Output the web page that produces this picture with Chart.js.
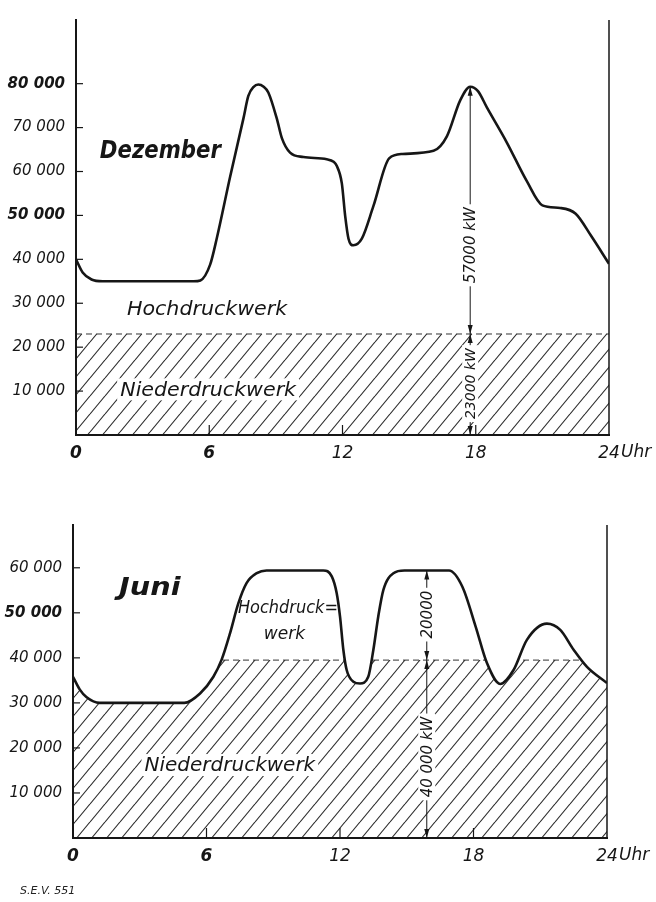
<!DOCTYPE html>
<html lang="de">
<head>
<meta charset="UTF-8">
<title>Belastungsdiagramm Dezember / Juni</title>
<script src="https://cdn.jsdelivr.net/npm/chart.js"></script>
<style>
  body { margin: 0; background: #fff; }
  #wrap { position: relative; width: 656px; height: 902px; }
  #decChart { position: absolute; left: 0; top: 0; }
  #junChart { position: absolute; left: 0; top: 480px; }
  .sev { position: absolute; left: 20px; top: 884px; font: italic 11px "DejaVu Sans", sans-serif; color: #222; }
</style>
</head>
<body>
<div id="wrap">
  <canvas id="decChart" width="656" height="470"></canvas>
  <canvas id="junChart" width="656" height="420"></canvas>
  <div class="sev">S.E.V. 551</div>
</div>

<script>
  // Tagesbelastung, Stunde -> kW
  const decHours = [0, 0.3, 0.7, 1.2, 5.3, 5.6, 6.04, 6.34, 6.94, 7.54, 7.76, 8.0, 8.21, 8.45, 8.66, 9.04, 9.27, 9.64, 10.24, 11.29, 11.6, 11.74, 11.97, 12.12, 12.27, 12.49, 12.87, 13.39, 14.1, 14.7, 16.1, 16.7, 17.3, 17.75, 18.1, 18.5, 19.4, 20.3, 21.0, 21.8, 22.5, 23.2, 24];
  const decKW = [40000, 37000, 35400, 35000, 35000, 35200, 38800, 44800, 58800, 72100, 77200, 79300, 79800, 79300, 78000, 72100, 67600, 64300, 63300, 62800, 62200, 61300, 57300, 49900, 44700, 43200, 44700, 52100, 63000, 64000, 64700, 68000, 76200, 79300, 78300, 74600, 66600, 57800, 52300, 51700, 50400, 45300, 39000];
  const decNieder = 23000;
  const decArrowHour = 17.75;
  const decYTicks = [10000, 20000, 30000, 40000, 50000, 60000, 70000, 80000];

  const junHours = [0, 0.3, 0.6, 1.2, 5.0, 5.71, 6.31, 6.68, 7.06, 7.43, 7.8, 8.26, 8.7, 11.25, 11.63, 11.85, 12.0, 12.15, 12.3, 12.6, 12.9, 13.27, 13.5, 13.72, 13.95, 14.4, 14.9, 16.9, 17.5, 18.1, 18.6, 19.2, 19.8, 20.4, 21.3, 21.9, 22.5, 23.1, 24];
  const junKW = [35800, 33000, 31300, 30000, 30000, 32100, 35800, 39600, 45500, 52100, 56600, 58800, 59400, 59400, 58100, 54400, 49200, 41800, 37300, 34700, 34300, 35800, 41800, 49200, 55100, 58800, 59400, 59400, 55800, 46900, 38900, 34200, 37300, 44000, 47600, 46200, 41800, 38000, 34400];
  const junNieder = 39500;
  const junArrowHour = 15.9;
  const junYTicks = [10000, 20000, 30000, 40000, 50000, 60000];

  const hourTicks = [0, 6, 12, 18, 24];

  const INK = '#161616';
  const FONT = '"DejaVu Sans", sans-serif';

  function hatch() {
    const w = 15, h = 18;
    const c = document.createElement('canvas');
    c.width = w; c.height = h;
    const g = c.getContext('2d');
    g.strokeStyle = '#2a2a2a';
    g.lineWidth = 1.1;
    [-w, 0, w].forEach(o => {
      g.beginPath(); g.moveTo(o, h); g.lineTo(o + w, 0); g.stroke();
    });
    return c.getContext('2d').createPattern(c, 'repeat');
  }

  const fmt = v => String(v).replace(/(\d+)(\d{3})$/, '$1 $2');

  function arrowHead(ctx, x, y, dir) {
    ctx.beginPath();
    ctx.moveTo(x, y);
    ctx.lineTo(x - 2.5, y - dir * 9);
    ctx.lineTo(x + 2.5, y - dir * 9);
    ctx.closePath();
    ctx.fill();
  }

  // Pfeile, Teilstriche und Beschriftungen
  function beschriftung(cfg) {
    return {
      id: 'beschriftung',
      afterDraw(chart) {
        const { ctx, chartArea: a } = chart;
        const x = chart.scales.x, y = chart.scales.y;
        ctx.save();
        ctx.strokeStyle = INK;
        ctx.fillStyle = INK;

        // rechte Begrenzung
        const xr = x.getPixelForValue(24);
        ctx.lineWidth = 1.5;
        ctx.beginPath(); ctx.moveTo(xr, a.top); ctx.lineTo(xr, a.bottom); ctx.stroke();

        // Teilstriche nach innen
        ctx.lineWidth = 1.2;
        cfg.yTicks.forEach(v => {
          const py = y.getPixelForValue(v);
          ctx.beginPath(); ctx.moveTo(a.left, py); ctx.lineTo(a.left + 7, py); ctx.stroke();
        });
        hourTicks.slice(1, -1).forEach(h => {
          const px = x.getPixelForValue(h);
          ctx.beginPath(); ctx.moveTo(px, a.bottom); ctx.lineTo(px, a.bottom - 10); ctx.stroke();
        });

        // Masspfeile
        ctx.lineWidth = 1;
        const ax = x.getPixelForValue(cfg.arrowHour);
        cfg.arrows.forEach(([top, bottom]) => {
          const y1 = y.getPixelForValue(top), y2 = y.getPixelForValue(bottom);
          ctx.beginPath(); ctx.moveTo(ax, y1); ctx.lineTo(ax, y2); ctx.stroke();
          arrowHead(ctx, ax, y1, -1);
          arrowHead(ctx, ax, y2, 1);
        });

        // Texte
        ctx.textAlign = 'center';
        ctx.textBaseline = 'middle';
        cfg.texts.forEach(t => {
          const px = x.getPixelForValue(t.h), py = y.getPixelForValue(t.v);
          ctx.font = t.font;
          const tw = ctx.measureText(t.t).width;
          const th = parseInt(t.font.match(/(\d+)px/)[1], 10);
          ctx.save();
          ctx.translate(px, py);
          if (t.rot) ctx.rotate(-Math.PI / 2);
          if (t.sx) ctx.scale(t.sx, 1);
          if (t.bg) {
            ctx.fillStyle = '#fff';
            ctx.fillRect(-tw / 2 - 3, -th / 2 - 1, tw + 6, th + 2);
            ctx.fillStyle = INK;
          }
          ctx.fillText(t.t, 0, 1);
          ctx.restore();
        });

        // "Uhr" hinter der 24
        ctx.font = 'italic 17px ' + FONT;
        ctx.textAlign = 'left';
        ctx.fillText('Uhr', xr + 12, a.bottom + 18);
        ctx.restore();
      }
    };
  }

  function drawChart(id, cfg) {
    const canvas = document.getElementById(id);
    const curve = cfg.hours.map((h, i) => ({ x: h, y: cfg.kw[i] }));
    const nieder = [{ x: 0, y: cfg.nieder }, { x: 24, y: cfg.nieder }];

    new Chart(canvas, {
      type: 'line',
      data: {
        datasets: [
          {
            label: 'Gesamtbelastung',
            data: curve,
            borderColor: INK,
            borderWidth: 2.6,
            pointRadius: 0,
            cubicInterpolationMode: 'monotone',
            fill: 'end',
            backgroundColor: '#fff'
          },
          {
            label: 'Niederdruckwerk',
            data: nieder,
            borderColor: '#333',
            borderWidth: 1,
            borderDash: [6, 4],
            pointRadius: 0,
            fill: 'origin',
            backgroundColor: hatch()
          }
        ]
      },
      options: {
        responsive: false,
        animation: false,
        layout: { padding: { top: cfg.top, right: canvas.width - cfg.right, left: 0, bottom: 0 } },
        plugins: { legend: { display: false }, tooltip: { enabled: false } },
        scales: {
          x: {
            type: 'linear', min: 0, max: 24,
            border: { display: true, width: 2, color: INK, z: 1 },
            grid: { display: false, drawTicks: false },
            afterBuildTicks: s => { s.ticks = hourTicks.map(v => ({ value: v })); },
            afterFit: s => { s.height = canvas.height - cfg.bottom; },
            ticks: {
              padding: 8, maxRotation: 0, autoSkip: false, color: INK,
              font: c => ({ family: FONT, size: 17, style: 'italic', weight: c.tick && c.tick.value <= 6 ? 'bold' : 'normal' })
            }
          },
          y: {
            type: 'linear', min: 0, max: cfg.yMax,
            border: { display: true, width: 2, color: INK, z: 1 },
            grid: { display: false, drawTicks: false },
            afterBuildTicks: s => { s.ticks = cfg.yTicks.map(v => ({ value: v })); },
            afterFit: s => { s.width = cfg.left; },
            ticks: {
              padding: 11, color: INK,
              callback: v => fmt(v),
              font: c => ({ family: FONT, size: 15, style: 'italic', weight: c.tick && (c.tick.value === 50000 || c.tick.value === 80000) ? 'bold' : 'normal' })
            }
          }
        }
      },
      plugins: [beschriftung(cfg)]
    });
  }

  drawChart('decChart', {
    hours: decHours, kw: decKW, nieder: decNieder, yTicks: decYTicks, yMax: 94500,
    left: 76, right: 609, top: 8, bottom: 435,
    arrowHour: decArrowHour,
    arrows: [[79300, decNieder], [decNieder, 0]],
    texts: [
      { t: 'Dezember', h: 3.8, v: 64700, font: 'italic bold 25px ' + FONT, sx: 0.85 },
      { t: 'Hochdruckwerk', h: 5.9, v: 28800, font: 'italic 20px ' + FONT, sx: 1.03 },
      { t: 'Niederdruckwerk', h: 5.95, v: 10400, font: 'italic 20px ' + FONT, sx: 1.03, bg: true },
      { t: '57000 kW', h: decArrowHour, v: 43200, font: 'italic 15px ' + FONT, rot: true, bg: true },
      { t: '23000 kW', h: decArrowHour, v: 11700, font: 'italic 14px ' + FONT, rot: true, bg: true }
    ]
  });

  drawChart('junChart', {
    hours: junHours, kw: junKW, nieder: junNieder, yTicks: junYTicks, yMax: 69500,
    left: 73, right: 607, top: 45, bottom: 358,
    arrowHour: junArrowHour,
    arrows: [[59400, junNieder], [junNieder, 0]],
    texts: [
      { t: 'Juni', h: 3.45, v: 55600, font: 'italic bold 25px ' + FONT, sx: 1.15 },
      { t: 'Hochdruck=', h: 9.66, v: 51100, font: 'italic 17px ' + FONT, sx: 0.95 },
      { t: 'werk', h: 9.5, v: 45500, font: 'italic 17px ' + FONT },
      { t: 'Niederdruckwerk', h: 7.05, v: 16200, font: 'italic 20px ' + FONT, bg: true },
      { t: '20000', h: junArrowHour, v: 49600, font: 'italic 15px ' + FONT, rot: true, bg: true },
      { t: '40 000 kW', h: junArrowHour, v: 18000, font: 'italic 15px ' + FONT, rot: true, bg: true }
    ]
  });
</script>
</body>
</html>
